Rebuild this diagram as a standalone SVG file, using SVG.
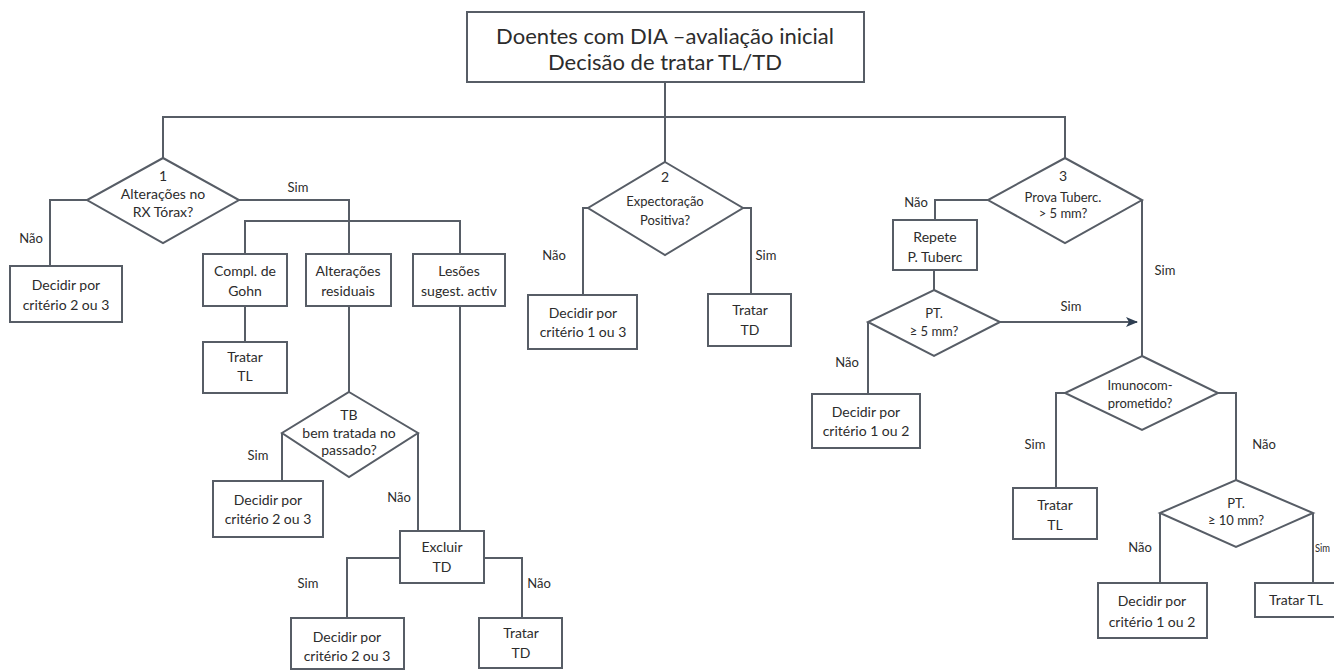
<svg xmlns="http://www.w3.org/2000/svg" width="1334" height="670" viewBox="0 0 1334 670">
<defs>
<style>
.ln{fill:none;stroke:#575d66;stroke-width:2}
.bx{fill:#fff;stroke:#575d66;stroke-width:2}
text{font-family:Lato,"Open Sans","Liberation Sans",sans-serif;fill:#2c2c2c;text-anchor:middle}
.t{font-size:14px}
.l{font-size:13px}
.h{font-size:22px}
</style>
<marker id="ah" viewBox="0 0 12 10" refX="11" refY="5" markerWidth="12" markerHeight="10" markerUnits="userSpaceOnUse" orient="auto">
<path d="M0,0 L12,5 L0,10 L3,5 Z" fill="#2f3f52"/>
</marker>
</defs>
<rect width="1334" height="670" fill="#fff"/>
<g id="connectors">
<path class="ln" d="M665,82 V162"/>
<path class="ln" d="M163,158 V117 H1065 V158"/>
<path class="ln" d="M87,200 H50 V266"/>
<path class="ln" d="M239,200 H349 V254"/>
<path class="ln" d="M245,254 V221 H460 V254"/>
<path class="ln" d="M245,306 V342"/>
<path class="ln" d="M349,306 V392"/>
<path class="ln" d="M282,433 V481"/>
<path class="ln" d="M418,433 V531"/>
<path class="ln" d="M460,306 V531"/>
<path class="ln" d="M400,558 H347 V618"/>
<path class="ln" d="M484,558 H522 V618"/>
<path class="ln" d="M588,208 H583 V295"/>
<path class="ln" d="M743,208 H751 V294"/>
<path class="ln" d="M988,200 H935 V220"/>
<path class="ln" d="M934,270 V290"/>
<path class="ln" d="M1000,322 H1137" marker-end="url(#ah)"/>
<path class="ln" d="M868,322 V394"/>
<path class="ln" d="M1142,200 V356"/>
<path class="ln" d="M1065,393 H1056 V488"/>
<path class="ln" d="M1218,393 H1236 V480"/>
<path class="ln" d="M1160,513 V583"/>
<path class="ln" d="M1313,513 V583"/>
</g>
<g id="labels">
<text class="l" x="298" y="192">Sim</text>
<text class="l" x="31" y="243">Não</text>
<text class="l" x="258" y="460">Sim</text>
<text class="l" x="399" y="502">Não</text>
<text class="l" x="308" y="588">Sim</text>
<text class="l" x="539" y="588">Não</text>
<text class="l" x="554" y="260">Não</text>
<text class="l" x="766" y="260">Sim</text>
<text class="l" x="916" y="207">Não</text>
<text class="l" x="1071" y="311">Sim</text>
<text class="l" x="847" y="367">Não</text>
<text class="l" x="1165" y="275">Sim</text>
<text class="l" x="1035" y="449">Sim</text>
<text class="l" x="1264" y="449">Não</text>
<text class="l" x="1140" y="552">Não</text>
<text x="1315" y="552" textLength="15" lengthAdjust="spacingAndGlyphs" style="text-anchor:start;font-size:12px">Sim</text>
</g>
<g id="n-top">
<rect class="bx" x="467" y="12" width="397" height="70"/>
<text class="h" x="665" y="44">Doentes com DIA –avaliação inicial</text>
<text class="h" x="665" y="70">Decisão de tratar TL/TD</text>
</g>
<g id="n-d1">
<polygon class="bx" points="163,158 239,200 163,243 87,200"/>
<text class="t" x="163" y="181">1</text>
<text class="t" x="163" y="199">Alterações no</text>
<text class="t" x="163" y="217">RX Tórax?</text>
</g>
<g id="n-b1">
<rect class="bx" x="10" y="266" width="112" height="56"/>
<text class="t" x="66" y="290">Decidir por</text>
<text class="t" x="66" y="310">critério 2 ou 3</text>
</g>
<g id="n-gohn">
<rect class="bx" x="203" y="254" width="84" height="52"/>
<text class="t" x="245" y="276">Compl. de</text>
<text class="t" x="245" y="296">Gohn</text>
</g>
<g id="n-alt">
<rect class="bx" x="306" y="254" width="85" height="52"/>
<text class="t" x="348" y="276">Alterações</text>
<text class="t" x="348" y="296">residuais</text>
</g>
<g id="n-les">
<rect class="bx" x="413" y="254" width="92" height="52"/>
<text class="t" x="459" y="276">Lesões</text>
<text class="t" x="459" y="296">sugest. activ</text>
</g>
<g id="n-ttl1">
<rect class="bx" x="203" y="342" width="84" height="51"/>
<text class="t" x="245" y="362">Tratar</text>
<text class="t" x="245" y="381">TL</text>
</g>
<g id="n-tb">
<polygon class="bx" points="349,392 418,433 349,477 282,433"/>
<text class="t" x="349" y="420">TB</text>
<text class="t" x="349" y="438">bem tratada no</text>
<text class="t" x="349" y="455">passado?</text>
</g>
<g id="n-b2">
<rect class="bx" x="213" y="481" width="110" height="56"/>
<text class="t" x="268" y="505">Decidir por</text>
<text class="t" x="268" y="524">critério 2 ou 3</text>
</g>
<g id="n-exc">
<rect class="bx" x="400" y="531" width="84" height="52"/>
<text class="t" x="442" y="552">Excluir</text>
<text class="t" x="442" y="572">TD</text>
</g>
<g id="n-b3">
<rect class="bx" x="291" y="618" width="113" height="51"/>
<text class="t" x="347" y="642">Decidir por</text>
<text class="t" x="347" y="661">critério 2 ou 3</text>
</g>
<g id="n-ttd1">
<rect class="bx" x="479" y="618" width="83" height="50"/>
<text class="t" x="521" y="638">Tratar</text>
<text class="t" x="521" y="658">TD</text>
</g>
<g id="n-d2">
<polygon class="bx" points="665,162 743,208 665,255 588,208"/>
<text class="t" x="665" y="182">2</text>
<text class="t" x="665" y="206" style="font-size:13px">Expectoração</text>
<text class="t" x="665" y="225" style="font-size:13px">Positiva?</text>
</g>
<g id="n-b4">
<rect class="bx" x="528" y="295" width="109" height="54"/>
<text class="t" x="583" y="318">Decidir por</text>
<text class="t" x="583" y="337">critério 1 ou 3</text>
</g>
<g id="n-ttd2">
<rect class="bx" x="708" y="294" width="83" height="52"/>
<text class="t" x="750" y="315">Tratar</text>
<text class="t" x="750" y="335">TD</text>
</g>
<g id="n-d3">
<polygon class="bx" points="1065,158 1142,200 1065,243 988,200"/>
<text class="t" x="1063" y="181">3</text>
<text class="t" x="1063" y="202" style="font-size:13px">Prova Tuberc.</text>
<text class="t" x="1063" y="218" style="font-size:13px">&gt; 5 mm?</text>
</g>
<g id="n-rep">
<rect class="bx" x="893" y="220" width="84" height="50"/>
<text class="t" x="935" y="242">Repete</text>
<text class="t" x="935" y="262">P. Tuberc</text>
</g>
<g id="n-pt5">
<polygon class="bx" points="934,290 1000,322 934,356 868,322"/>
<text class="t" x="934" y="318" style="font-size:13px">PT.</text>
<text class="t" x="934" y="336" style="font-size:13px">≥ 5 mm?</text>
</g>
<g id="n-b5">
<rect class="bx" x="812" y="394" width="108" height="54"/>
<text class="t" x="866" y="417">Decidir por</text>
<text class="t" x="866" y="436">critério 1 ou 2</text>
</g>
<g id="n-imu">
<polygon class="bx" points="1142,356 1218,393 1142,430 1065,393"/>
<text class="t" x="1140" y="390" style="font-size:13px">Imunocom-</text>
<text class="t" x="1140" y="408" style="font-size:13px">prometido?</text>
</g>
<g id="n-ttl2">
<rect class="bx" x="1013" y="488" width="84" height="51"/>
<text class="t" x="1055" y="510">Tratar</text>
<text class="t" x="1055" y="530">TL</text>
</g>
<g id="n-pt10">
<polygon class="bx" points="1236,480 1313,513 1236,547 1160,513"/>
<text class="t" x="1236" y="508" style="font-size:13px">PT.</text>
<text class="t" x="1236" y="525" style="font-size:13px">≥ 10 mm?</text>
</g>
<g id="n-b6">
<rect class="bx" x="1098" y="583" width="109" height="55"/>
<text class="t" x="1152" y="606">Decidir por</text>
<text class="t" x="1152" y="627">critério 1 ou 2</text>
</g>
<g id="n-ttl3">
<rect class="bx" x="1255" y="583" width="90" height="34"/>
<text class="t" x="1296" y="605">Tratar TL</text>
</g>
</svg>
